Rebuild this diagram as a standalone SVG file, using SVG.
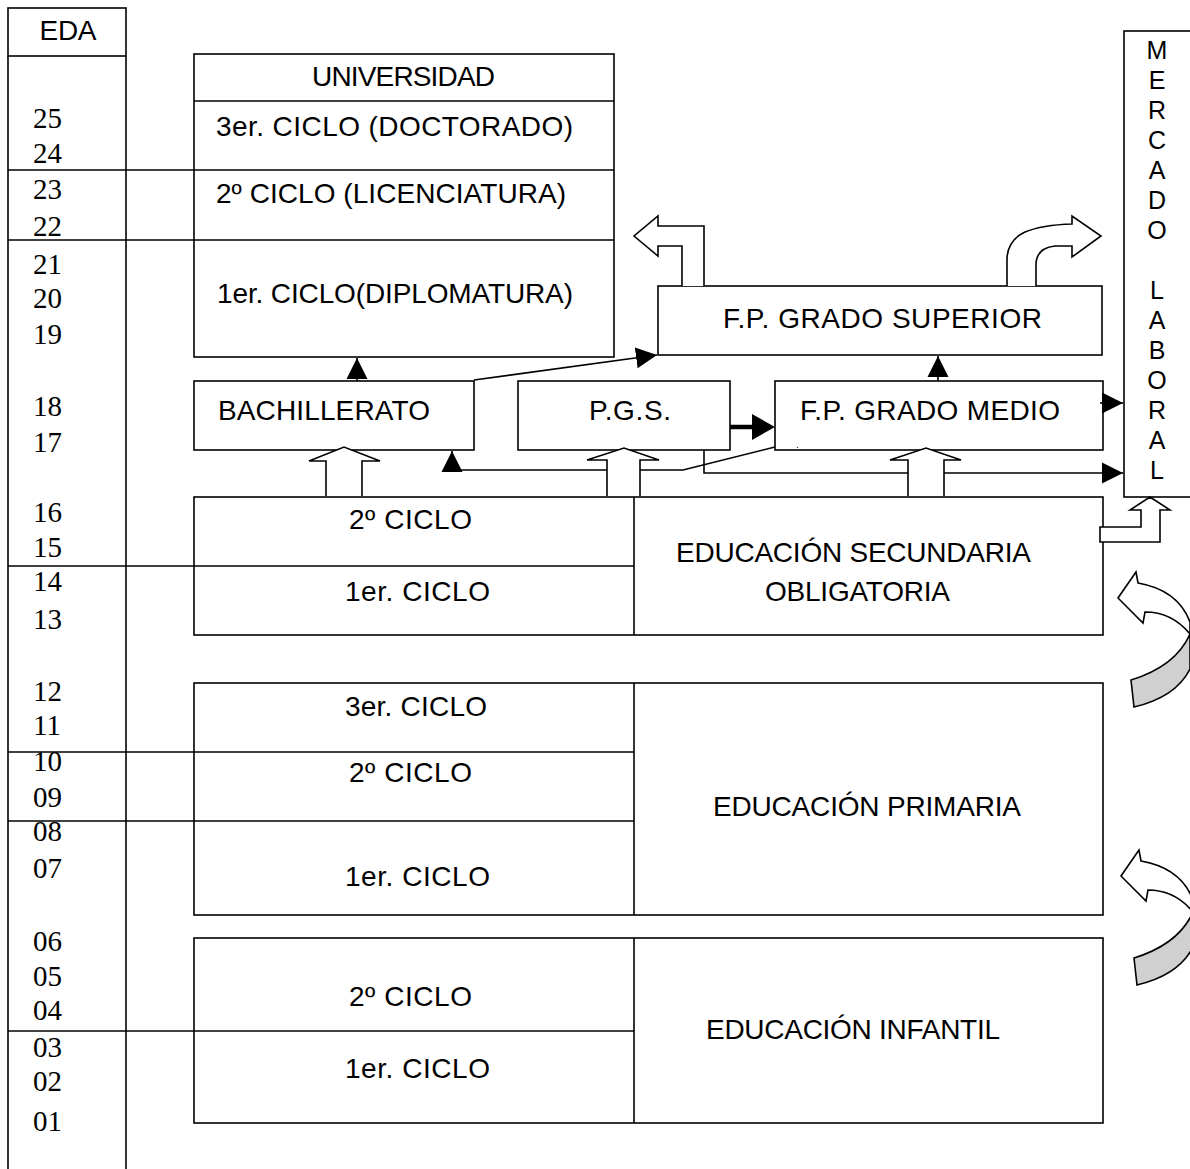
<svg xmlns="http://www.w3.org/2000/svg" width="1190" height="1169" viewBox="0 0 1190 1169">
<defs>
<style>
.b{fill:#fff;stroke:#000;stroke-width:1.6}
.ln{fill:none;stroke:#000;stroke-width:1.6}
.t{font-family:"Liberation Sans",Arial,sans-serif;font-size:28px;fill:#000}
.m{font-family:"Liberation Sans",Arial,sans-serif;font-size:25px;fill:#000;text-anchor:middle}
.n{font-family:"Liberation Serif","Times New Roman",serif;font-size:29px;fill:#000}
.c{text-anchor:middle}
.ba{fill:#fff;stroke:#000;stroke-width:1.6;stroke-linejoin:miter}
.g{fill:#d0d0d0;stroke:#000;stroke-width:1.6}
</style>
<marker id="arr" markerUnits="userSpaceOnUse" markerWidth="22" markerHeight="22" refX="21" refY="10.5" orient="auto" viewBox="0 0 22 21">
<path d="M0,0 L21,10.5 L0,21 Z" fill="#000"/>
</marker>
<g id="curv">
<path class="ba" d="M1136,572 L1118,598 L1143,623 L1145,612 Q1172,612 1190,634 L1190,622 Q1178,590 1138,583 Z"/>
<path class="g" d="M1190,634 Q1176,666 1131,680 L1134,707 Q1176,697 1190,669 Z"/>
</g>
</defs>
<rect width="1190" height="1169" fill="#fff"/>

<g id="age-column">
<rect class="b" x="8" y="8" width="118" height="48"/>
<text class="t c" x="68" y="40" textLength="57">EDA</text>
<line class="ln" x1="8" y1="56" x2="8" y2="1169"/>
<line class="ln" x1="126" y1="56" x2="126" y2="1169"/>
<line class="ln" x1="8" y1="170" x2="194" y2="170"/>
<line class="ln" x1="8" y1="240" x2="194" y2="240"/>
<line class="ln" x1="8" y1="566" x2="194" y2="566"/>
<line class="ln" x1="8" y1="752" x2="194" y2="752"/>
<line class="ln" x1="8" y1="821" x2="194" y2="821"/>
<line class="ln" x1="8" y1="1031" x2="194" y2="1031"/>
<text class="n" x="33" y="128">25</text>
<text class="n" x="33" y="163">24</text>
<text class="n" x="33" y="199">23</text>
<text class="n" x="33" y="236">22</text>
<text class="n" x="33" y="274">21</text>
<text class="n" x="33" y="308">20</text>
<text class="n" x="33" y="344">19</text>
<text class="n" x="33" y="416">18</text>
<text class="n" x="33" y="452">17</text>
<text class="n" x="33" y="522">16</text>
<text class="n" x="33" y="557">15</text>
<text class="n" x="33" y="591">14</text>
<text class="n" x="33" y="629">13</text>
<text class="n" x="33" y="701">12</text>
<text class="n" x="33" y="735">11</text>
<text class="n" x="33" y="771">10</text>
<text class="n" x="33" y="807">09</text>
<text class="n" x="33" y="841">08</text>
<text class="n" x="33" y="878">07</text>
<text class="n" x="33" y="951">06</text>
<text class="n" x="33" y="986">05</text>
<text class="n" x="33" y="1020">04</text>
<text class="n" x="33" y="1057">03</text>
<text class="n" x="33" y="1091">02</text>
<text class="n" x="33" y="1131">01</text>
</g>

<g id="universidad">
<rect class="b" x="194" y="54" width="420" height="303"/>
<line class="ln" x1="194" y1="101" x2="614" y2="101"/>
<line class="ln" x1="194" y1="170" x2="614" y2="170"/>
<line class="ln" x1="194" y1="240" x2="614" y2="240"/>
<text class="t" x="312" y="86" textLength="183">UNIVERSIDAD</text>
<text class="t" x="216" y="136" textLength="357">3er. CICLO (DOCTORADO)</text>
<text class="t" x="216" y="203" textLength="350">2º CICLO (LICENCIATURA)</text>
<text class="t" x="217" y="303" textLength="356">1er. CICLO(DIPLOMATURA)</text>
</g>

<g id="fp-superior">
<rect class="b" x="658" y="286" width="444" height="69"/>
<text class="t" x="723" y="328" textLength="319">F.P. GRADO SUPERIOR</text>
</g>

<g id="bachillerato">
<rect class="b" x="194" y="381" width="280" height="69"/>
<text class="t" x="218" y="420" textLength="212">BACHILLERATO</text>
</g>

<g id="pgs">
<rect class="b" x="518" y="381" width="212" height="69"/>
<text class="t" x="589" y="420" textLength="82">P.G.S.</text>
</g>

<g id="fp-medio">
<rect class="b" x="775" y="381" width="328" height="69"/>
<text class="t" x="800" y="420" textLength="260">F.P. GRADO MEDIO</text>
<text class="t" x="796" y="448" style="font-size:10px">.</text>
</g>

<g id="mercado-laboral">
<rect class="b" x="1124" y="31" width="80" height="466"/>
<text class="m" x="1157" y="59">M</text>
<text class="m" x="1157" y="89">E</text>
<text class="m" x="1157" y="119">R</text>
<text class="m" x="1157" y="149">C</text>
<text class="m" x="1157" y="179">A</text>
<text class="m" x="1157" y="209">D</text>
<text class="m" x="1157" y="239">O</text>
<text class="m" x="1157" y="299">L</text>
<text class="m" x="1157" y="329">A</text>
<text class="m" x="1157" y="359">B</text>
<text class="m" x="1157" y="389">O</text>
<text class="m" x="1157" y="419">R</text>
<text class="m" x="1157" y="449">A</text>
<text class="m" x="1157" y="479">L</text>
</g>

<g id="eso">
<rect class="b" x="194" y="497" width="909" height="138"/>
<line class="ln" x1="634" y1="497" x2="634" y2="635"/>
<line class="ln" x1="194" y1="566" x2="634" y2="566"/>
<text class="t" x="349" y="529" textLength="123">2º CICLO</text>
<text class="t" x="345" y="601" textLength="145">1er. CICLO</text>
<text class="t" x="676" y="562" textLength="355">EDUCACIÓN SECUNDARIA</text>
<text class="t" x="765" y="601" textLength="185">OBLIGATORIA</text>
</g>

<g id="primaria">
<rect class="b" x="194" y="683" width="909" height="232"/>
<line class="ln" x1="634" y1="683" x2="634" y2="915"/>
<line class="ln" x1="194" y1="752" x2="634" y2="752"/>
<line class="ln" x1="194" y1="821" x2="634" y2="821"/>
<text class="t" x="345" y="716" textLength="142">3er. CICLO</text>
<text class="t" x="349" y="782" textLength="123">2º CICLO</text>
<text class="t" x="345" y="886" textLength="145">1er. CICLO</text>
<text class="t" x="713" y="816" textLength="308">EDUCACIÓN PRIMARIA</text>
</g>

<g id="infantil">
<rect class="b" x="194" y="938" width="909" height="185"/>
<line class="ln" x1="634" y1="938" x2="634" y2="1123"/>
<line class="ln" x1="194" y1="1031" x2="634" y2="1031"/>
<text class="t" x="349" y="1006" textLength="123">2º CICLO</text>
<text class="t" x="345" y="1078" textLength="145">1er. CICLO</text>
<text class="t" x="706" y="1039" textLength="294">EDUCACIÓN INFANTIL</text>
</g>

<g id="connectors">
<line class="ln" x1="357" y1="381" x2="357" y2="358" marker-end="url(#arr)"/>
<line class="ln" x1="938" y1="381" x2="938" y2="356" marker-end="url(#arr)"/>
<line class="ln" x1="474" y1="380" x2="657" y2="355" marker-end="url(#arr)"/>
<line x1="730" y1="427" x2="754" y2="427" stroke="#000" stroke-width="4.5"/>
<path d="M752,414 L775,427 L752,440 Z" fill="#000"/>
<line class="ln" x1="1100" y1="403" x2="1123" y2="403" marker-end="url(#arr)"/>
<polyline class="ln" points="775,447 683,470 452,470 452,451" marker-end="url(#arr)"/>
<polyline class="ln" points="704,450 704,473 1123,473" marker-end="url(#arr)"/>
<path class="ba" d="M682,286 L682,246 L658,246 L658,256 L634,236 L658,216 L658,226 L704,226 L704,286"/>
<path class="ba" d="M1007,286 L1007,258 Q1008,240 1025,232 Q1042,225 1072,224 L1072,216 L1101,236 L1072,257 L1072,246 L1055,246 Q1036,248 1036,265 L1036,286"/>
<path class="ba" d="M326,496 L326,461 L309,461 L344,447 L380,461 L362,461 L362,496"/>
<path class="ba" d="M607,496 L607,460 L587,460 L624,448 L659,460 L640,460 L640,496"/>
<path class="ba" d="M908,496 L908,460 L890,460 L926,448 L961,460 L944,460 L944,496"/>
<path class="ba" d="M1100,527 L1141,527 L1141,510 L1130,510 L1150,497 L1170,510 L1160,510 L1160,542 L1100,542 Z"/>
<use href="#curv"/>
<use href="#curv" transform="translate(3,278)"/>
</g>
</svg>
